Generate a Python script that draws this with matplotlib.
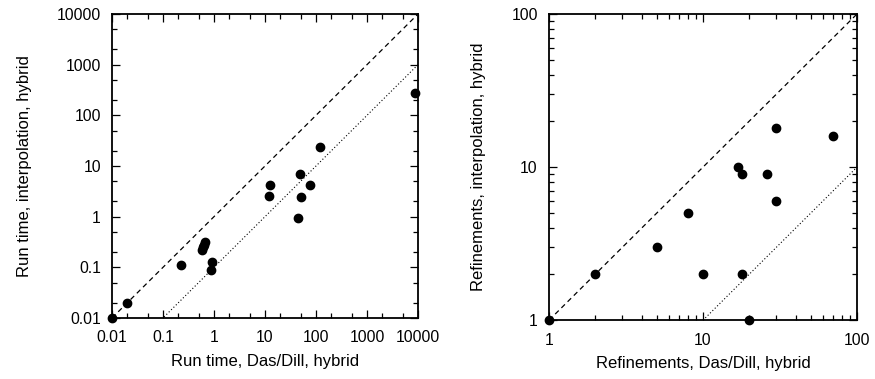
import matplotlib
matplotlib.use("Agg")
import matplotlib.pyplot as plt
import matplotlib.ticker as mticker
import numpy as np

plt.rcParams["font.family"] = ["Liberation Sans", "DejaVu Sans"]

# ── Run time data (Das/Dill vs interpolation) ──────────────────
runtime_dasdill = [0.01, 0.02, 0.23, 0.58, 0.62, 0.65, 0.68, 0.91, 0.88,
                   11.8, 12.5, 44, 49, 51, 76, 120, 8900]
runtime_interp = [0.01, 0.02, 0.11, 0.22, 0.25, 0.28, 0.31, 0.13, 0.09,
                  2.6, 4.2, 0.92, 7.0, 2.4, 4.3, 23.5, 280]

# ── Refinement counts ──────────────────────────────────────────
refine_dasdill = [1, 2, 5, 8, 10, 17, 18, 18, 20, 26, 30, 30, 70]
refine_interp = [1, 2, 3, 5, 2, 10, 9, 2, 1, 9, 18, 6, 16]

runtime_range = [0.01, 10000]
runtime_ticks = [0.01, 0.1, 1, 10, 100, 1000, 10000]
runtime_labels = ["0.01", "0.1", "1", "10", "100", "1000", "10000"]
refine_range = [1, 100]
refine_ticks = [1, 10, 100]
refine_labels = ["1", "10", "100"]

TICK_FS = 11.3
LABEL_FS = 12


def _style(ax, lims, ticks, labels, minor_subs):
    ax.set_xscale("log")
    ax.set_yscale("log")
    ax.set_xlim(lims)
    ax.set_ylim(lims)
    for axis in (ax.xaxis, ax.yaxis):
        axis.set_major_locator(mticker.FixedLocator(ticks))
        axis.set_major_formatter(mticker.FixedFormatter(labels))
        axis.set_minor_locator(mticker.LogLocator(base=10, subs=minor_subs))
        axis.set_minor_formatter(mticker.NullFormatter())
    ax.tick_params(which="both", direction="in", top=True, right=True,
                   labelsize=TICK_FS, width=0.9)
    ax.tick_params(which="major", length=6)
    ax.tick_params(which="minor", length=3.5)
    ax.tick_params(axis="x", pad=9)
    ax.tick_params(axis="y", pad=8)
    for sp in ax.spines.values():
        sp.set_linewidth(1.3)


fig = plt.figure(figsize=(8.75, 3.79), dpi=100)
ax1 = fig.add_axes([0.128, 0.161, 0.3497, 0.802])
ax2 = fig.add_axes([0.6274, 0.155, 0.352, 0.808])

# left: run times
line = np.array(runtime_range)
ax1.plot(line, line, color="black", linestyle=(0, (4, 3)), linewidth=0.9)
ax1.plot(line, line / 10, color="black", linestyle=(0, (1, 2)), linewidth=0.8)
ax1.plot(runtime_dasdill, runtime_interp, "o", color="black", markersize=6,
         clip_on=False, zorder=5)
_style(ax1, runtime_range, runtime_ticks, runtime_labels, (2.0, 5.0))
ax1.set_xlabel("Run time, Das/Dill, hybrid", fontsize=LABEL_FS, labelpad=6)
ax1.set_ylabel("Run time, interpolation, hybrid", fontsize=LABEL_FS, labelpad=18)

# right: refinements
line = np.array(refine_range)
ax2.plot(line, line, color="black", linestyle=(0, (4, 3)), linewidth=0.9)
ax2.plot(line * 10, line, color="black", linestyle=(0, (1, 2)), linewidth=0.8)
ax2.plot(refine_dasdill, refine_interp, "o", color="black", markersize=6,
         clip_on=False, zorder=5)
_style(ax2, refine_range, refine_ticks, refine_labels, np.arange(2, 10))
ax2.set_xlabel("Refinements, Das/Dill, hybrid", fontsize=LABEL_FS, labelpad=6)
ax2.set_ylabel("Refinements, interpolation, hybrid", fontsize=LABEL_FS, labelpad=18)

fig.savefig("out.png", dpi=100)
